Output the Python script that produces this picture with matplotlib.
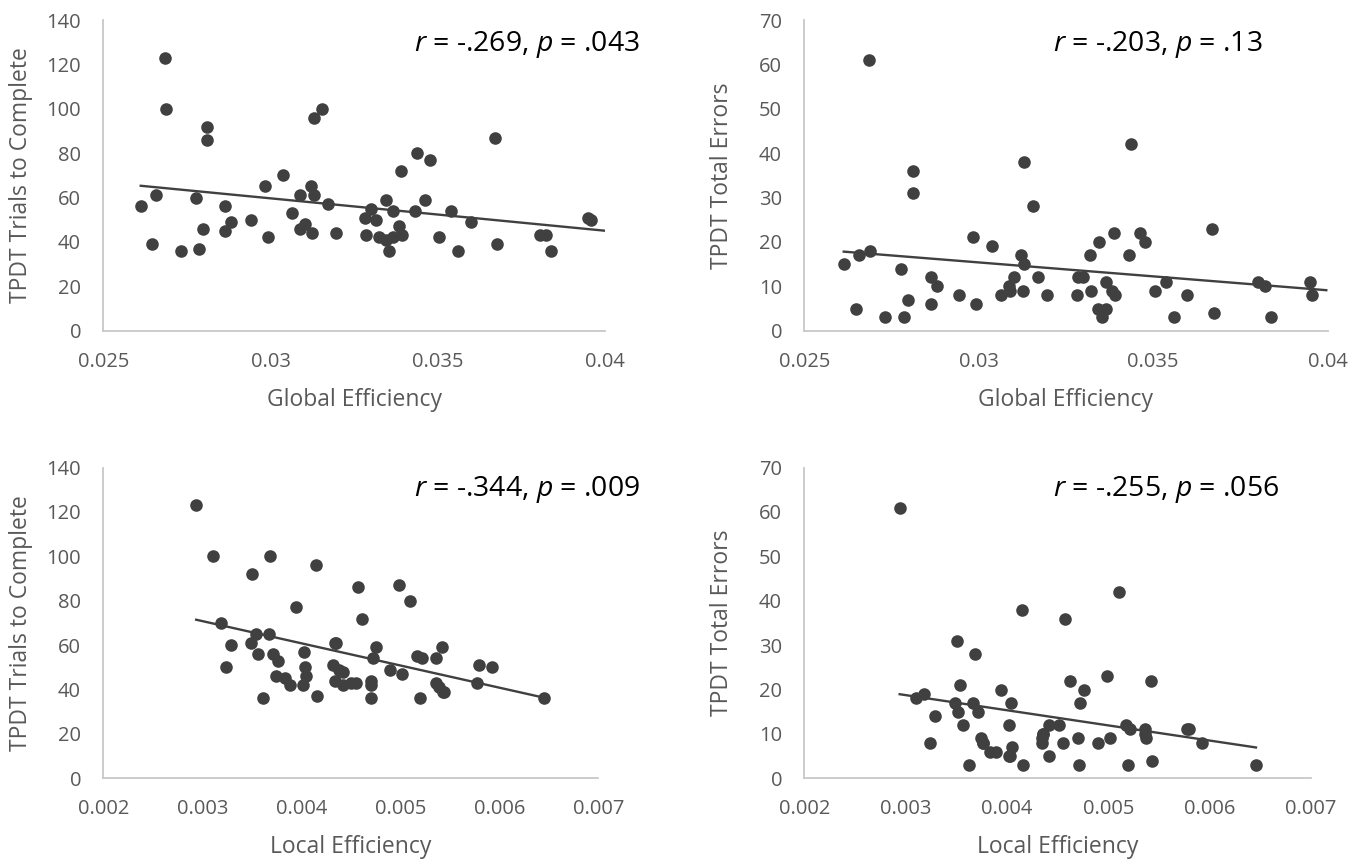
import numpy as np
import matplotlib
matplotlib.use("Agg")
import matplotlib.pyplot as plt
from matplotlib.ticker import FuncFormatter, MultipleLocator

plt.rcParams['font.family'] = ['Open Sans', 'DejaVu Sans']
plt.rcParams['mathtext.fontset'] = 'custom'
plt.rcParams['mathtext.rm'] = 'Open Sans'
plt.rcParams['mathtext.it'] = 'Open Sans:italic'

# global efficiency vs trials to complete
glob_x1 = [0.02685, 0.02687, 0.02809, 0.02809, 0.03154, 0.0313, 0.03037, 0.02983, 0.03121, 0.03088,
           0.03131, 0.02657, 0.02777, 0.02612, 0.02863, 0.03171, 0.03064, 0.0330, 0.03281, 0.03316,
           0.02881, 0.02943, 0.02797, 0.02863, 0.03102, 0.03087, 0.03125, 0.03196, 0.03284, 0.03323,
           0.02993, 0.02646, 0.02731, 0.02786,
           0.03671, 0.03437, 0.03477, 0.03389, 0.03346, 0.03463, 0.03365, 0.03431, 0.03539, 0.036,
           0.03949, 0.03957, 0.03385, 0.03345, 0.03365, 0.03392, 0.03504, 0.03355, 0.03561, 0.03676,
           0.03805, 0.03823, 0.03838]
trials_y1 = [123, 100, 92, 86, 100, 96, 70, 65, 65, 61, 61, 61, 60, 56, 56, 57, 53, 55, 51, 50,
             49, 50, 46, 45, 48, 46, 44, 44, 43, 42, 42, 39, 36, 37,
             87, 80, 77, 72, 59, 59, 54, 54, 54, 49, 51, 50, 47, 41, 42, 43, 42, 36, 36, 39, 43, 43, 36]

# global efficiency vs total errors
glob_x2 = [0.02685, 0.02811, 0.02811, 0.0313, 0.03155, 0.02983, 0.03037, 0.02688, 0.02657, 0.02613,
           0.03122, 0.0313, 0.02778, 0.02863, 0.0288, 0.03101, 0.03169, 0.03087, 0.0309, 0.03126,
           0.03063, 0.03195, 0.02944, 0.02797, 0.02863, 0.02993, 0.02648, 0.0273, 0.02787,
           0.03435, 0.03669, 0.03388, 0.03461, 0.03477, 0.03346, 0.03318, 0.0343, 0.03285, 0.03299,
           0.03364, 0.03538, 0.038, 0.03948, 0.03821, 0.03382, 0.03391, 0.03322, 0.03282, 0.03505,
           0.03597, 0.03956, 0.03341, 0.03364, 0.03352, 0.0356, 0.03673, 0.03837]
errors_y2 = [61, 36, 31, 38, 28, 21, 19, 18, 17, 15, 17, 15, 14, 12, 10, 12, 12, 10, 9, 9,
             8, 8, 8, 7, 6, 6, 5, 3, 3,
             42, 23, 22, 22, 20, 20, 17, 17, 12, 12, 11, 11, 11, 11, 10, 9, 8, 9, 8, 9, 8, 8, 5, 5,
             3, 3, 4, 3]

# local efficiency vs trials to complete
loc_x3 = [0.002938, 0.003106, 0.003683, 0.003501, 0.004146, 0.004568, 0.003947, 0.004618, 0.003184,
          0.003542, 0.00367, 0.003494, 0.003285, 0.004345, 0.004753, 0.003566, 0.003718, 0.004024,
          0.003765, 0.00472, 0.003242, 0.004041, 0.00432, 0.004378, 0.004419, 0.004048, 0.003745,
          0.003835, 0.00389, 0.004017, 0.004341, 0.004419, 0.004507, 0.004554, 0.004699, 0.004699,
          0.004156, 0.003616, 0.004706,
          0.004989, 0.0051, 0.005421, 0.005171, 0.005219, 0.005364, 0.004895, 0.005013, 0.005795,
          0.005924, 0.00536, 0.005387, 0.005434, 0.005775, 0.005198, 0.006453, 0.004352, 0.005441]
trials_y3 = [123, 100, 100, 92, 96, 86, 77, 72, 70, 65, 65, 61, 60, 61, 59, 56, 56, 57, 53, 54,
             50, 50, 51, 49, 48, 46, 46, 45, 42, 42, 44, 42, 43, 43, 44, 42, 37, 36, 36,
             87, 80, 59, 55, 54, 54, 49, 47, 51, 50, 43, 41, 39, 43, 36, 36, 61, 39]

# local efficiency vs total errors
loc_x4 = [0.002941, 0.004145, 0.003507, 0.003688, 0.003539, 0.003944, 0.003184, 0.003105, 0.00349,
          0.003668, 0.00404, 0.003514, 0.003717, 0.003286, 0.003566, 0.00402, 0.004412, 0.004355,
          0.003744, 0.003763, 0.004342, 0.003243, 0.00383, 0.003889, 0.004053, 0.00402, 0.004415,
          0.003622, 0.004161, 0.004553,
          0.005102, 0.004573, 0.00499, 0.005421, 0.004619, 0.00476, 0.00472, 0.004516, 0.005175,
          0.005217, 0.005365, 0.005365, 0.005372, 0.005773, 0.005799, 0.005925, 0.004698, 0.004898,
          0.005017, 0.004708, 0.005197, 0.005434, 0.006457, 0.004345, 0.00436, 0.003768, 0.004025]
errors_y4 = [61, 38, 31, 28, 21, 20, 19, 18, 17, 17, 17, 15, 15, 14, 12, 12, 12, 10, 9, 8,
             8, 8, 6, 6, 7, 5, 5, 3, 3, 8,
             42, 36, 23, 22, 22, 20, 17, 12, 12, 11, 11, 10, 9, 11, 11, 8, 9, 8, 9, 3, 3, 4, 3,
             9, 10, 8, 5]

stats_text = [r'$r$ = -.269, $p$ = .043', r'$r$ = -.203, $p$ = .13',
              r'$r$ = -.344, $p$ = .009', r'$r$ = -.255, $p$ = .056']
x_titles = ['Global Efficiency', 'Global Efficiency', 'Local Efficiency', 'Local Efficiency']
y_titles = ['TPDT Trials to Complete', 'TPDT Total Errors', 'TPDT Trials to Complete', 'TPDT Total Errors']

W, H = 1366, 863
fig = plt.figure(figsize=(W / 100, H / 100), dpi=100)

# pixel boxes (left, top, right, bottom) of each plot area
boxes = [(103.3, 20, 605, 330.7), (804.3, 20, 1327.7, 330.7),
         (103.3, 467.6, 598.3, 778.3), (804.3, 467.6, 1311, 778.3)]
xlims = [(0.025, 0.04), (0.025, 0.04), (0.002, 0.007), (0.002, 0.007)]
xsteps = [0.005, 0.005, 0.001, 0.001]
ylims = [(0, 140), (0, 70), (0, 140), (0, 70)]
ysteps = [20, 10, 20, 10]
trend_ext = [0.0004, 0.0004, 0, 0]
text_pos = [(414, 50.7), (1053, 50.7), (414, 495.7), (1053, 495.7)]

data = [(glob_x1, trials_y1), (glob_x2, errors_y2), (loc_x3, trials_y3), (loc_x4, errors_y4)]
grey = '#595959'
dark = '#404040'

for i, (xs, ys) in enumerate(data):
    l, t, r, b = boxes[i]
    ax = fig.add_axes([l / W, 1 - b / H, (r - l) / W, (b - t) / H])
    xs = np.array(xs)
    ys = np.array(ys)
    ax.scatter(xs, ys, s=82, color=dark, linewidths=0, zorder=3, clip_on=False)
    # linear trendline
    m, c = np.polyfit(xs, ys, 1)
    tx = np.array([xs.min(), xs.max() + trend_ext[i]])
    ax.plot(tx, m * tx + c, color=dark, lw=1.7, zorder=2)

    ax.set_xlim(*xlims[i])
    ax.set_ylim(*ylims[i])
    ax.xaxis.set_major_locator(MultipleLocator(xsteps[i]))
    ax.yaxis.set_major_locator(MultipleLocator(ysteps[i]))
    ax.xaxis.set_major_formatter(FuncFormatter(lambda v, p: '{:g}'.format(round(v, 4))))
    ax.yaxis.set_major_formatter(FuncFormatter(lambda v, p: '{:d}'.format(int(round(v)))))
    for s in ['top', 'right']:
        ax.spines[s].set_visible(False)
    for s in ['left', 'bottom']:
        ax.spines[s].set_color('#C8C8C8')
        ax.spines[s].set_linewidth(1.3)
    ax.tick_params(length=0, labelsize=14.5, colors=grey)
    ax.tick_params(axis='y', pad=16)
    ax.tick_params(axis='x', pad=15)

    fig.text(text_pos[i][0] / W, 1 - text_pos[i][1] / H, stats_text[i], fontsize=20.4,
             color='black', ha='left', va='baseline')
    fig.text((l + r) / 2 / W, 1 - (b + 69) / H, x_titles[i], fontsize=16.5, color=grey,
             ha='center', va='center')
    fig.text((l - 82) / W, 1 - (t + b) / 2 / H, y_titles[i], fontsize=16.5, color=grey,
             ha='center', va='center', rotation=90)

fig.savefig('out.png', dpi=100)
